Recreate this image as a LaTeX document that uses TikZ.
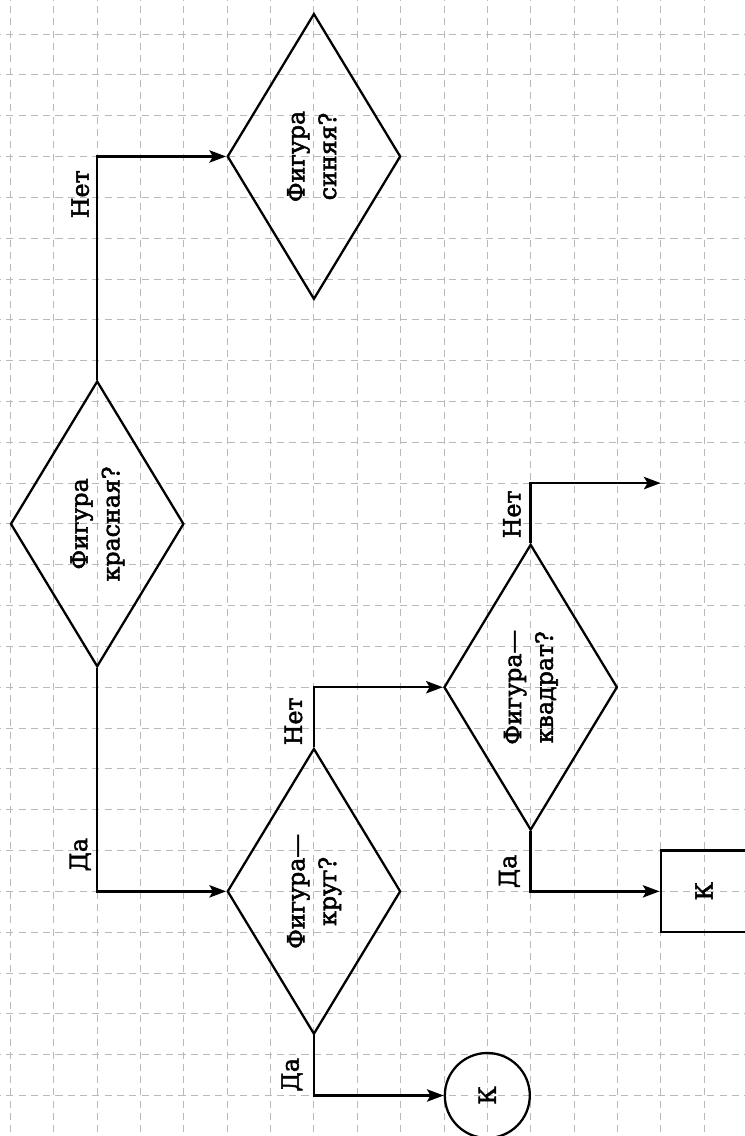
\documentclass[tikz,border=0pt]{standalone}
\usepackage{fontspec}
\setmainfont{DejaVu Serif}
\newfontfamily\chartfont{DejaVu Serif}[FakeBold=2.2]
\usetikzlibrary{shapes.geometric,arrows.meta,calc}
\begin{document}
\begin{tikzpicture}[x=0.867cm, y=-0.8166cm, every node/.style={font=\chartfont\fontsize{13.5}{18}\selectfont}]
  \tikzstyle{gridline}=[gray!55,line width=0.5pt,dash pattern=on 4pt off 3pt,dash phase=2pt]
  \tikzstyle{ask}=[diamond,aspect=0.6,draw,line width=1.3pt,minimum width=3.468cm,minimum height=5.716cm,inner sep=0pt,align=center]
  \tikzstyle{arr}=[line width=1.4pt,-{Stealth[length=9.5pt,width=7pt,inset=2pt]}]
  \tikzstyle{lbl}=[rotate=90,inner sep=0pt]
  \useasboundingbox (-0.2422,-0.8327) rectangle (16.9435,26.9925);
  \clip (-0.2422,-0.8327) rectangle (16.9435,26.9925);
  % squared paper
  \foreach \i in {0,...,16} \draw[gridline] (\i,-0.9) -- (\i,27.1);
  \foreach \j in {0,...,26} \draw[gridline] (-0.3,\j) -- (17.1,\j);
  % questions
  \node[ask] (red) at (2,12) {\rotatebox{90}{\begin{tabular}{@{}c@{}}Фигура\\красная?\end{tabular}}};
  \node[ask] (blue) at (7,3) {\rotatebox{90}{\begin{tabular}{@{}c@{}}Фигура\\синяя?\end{tabular}}};
  \node[ask] (circ) at (7,21) {\rotatebox{90}{\begin{tabular}{@{}c@{}}Фигура—\\круг?\end{tabular}}};
  \node[ask] (sqr) at (12,16) {\rotatebox{90}{\begin{tabular}{@{}c@{}}Фигура—\\квадрат?\end{tabular}}};
  % ends
  \node[draw,line width=1.3pt,minimum width=1.734cm,minimum height=1.633cm] (endbox) at (16,21) {\rotatebox{90}{К}};
  \node[draw,circle,line width=1.3pt,minimum size=1.7cm,inner sep=0pt] (endcirc) at (11,26) {\rotatebox{90}{К}};
  \coordinate (more) at (15,11);
  % connectors
  \draw[arr] (red.north) |- (blue.west);
  \draw[arr] (red.south) |- (circ.west);
  \draw[arr] (circ.north) |- (sqr.west);
  \draw[arr] (circ.south) |- (endcirc.west);
  \draw[arr] (sqr.north) |- (more);
  \draw[arr] (sqr.south) |- (endbox.west);
  % answers
  \node[lbl,anchor=south east] (n1) at (1.82,3.33) {Нет};
  \node[lbl,anchor=south west] (d1) at (1.86,20.52) {Да};
  \node[lbl,anchor=south east] (n2) at (6.74,16.24) {Нет};
  \node[lbl,anchor=south west] (d2) at (6.74,25.91) {Да};
  \node[lbl,anchor=south east] (n3) at (11.78,11.17) {Нет};
  \node[lbl,anchor=south west] (d3) at (11.76,20.93) {Да};
\end{tikzpicture}
\end{document}
